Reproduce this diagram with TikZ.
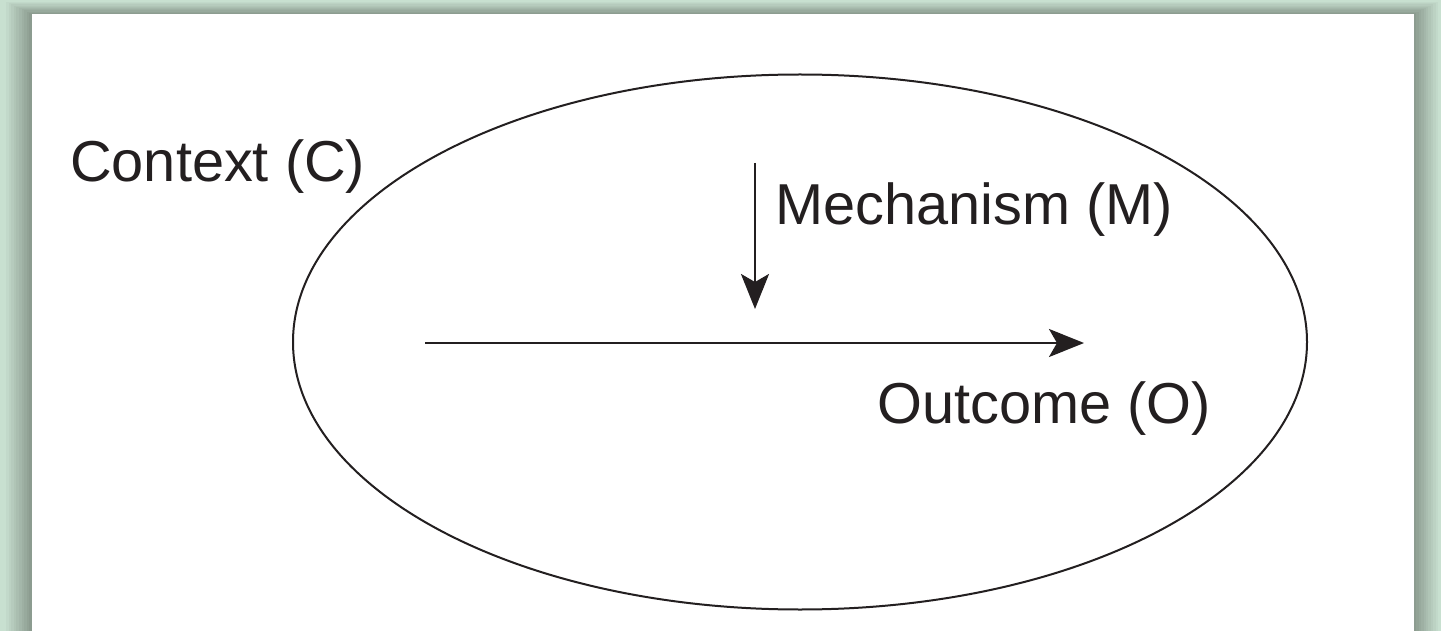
\documentclass[tikz,border=0pt]{standalone}
\usepackage{fontspec}
\setmainfont{Liberation Sans}
\usetikzlibrary{arrows.meta,shapes.geometric}
\definecolor{bglight}{RGB}{200,224,208}
\definecolor{bgdark}{RGB}{140,156,144}
\definecolor{ink}{RGB}{35,31,32}
\tikzset{
  lbl/.style={font=\fontsize{57.7}{60}\selectfont, text=ink, inner sep=0pt},
  conn/.style={draw=ink, line width=2.5pt, -{Stealth[length=35pt,width=28pt,inset=8pt]}},
}
\begin{document}
\begin{tikzpicture}[x=1pt,y=-1pt]
\useasboundingbox (0,0) rectangle (1441,631);
\fill[bglight] (0,0) rectangle (1441,631);
\foreach \i in {0,...,9}{
  \pgfmathsetmacro\f{1-\i/10}
  \pgfmathsetmacro\p{(\i+1)*10}
  \fill[bgdark!\p!bglight] ({32-26*\f},{14-12*\f}) rectangle ({1414+24*\f},640);
}
\fill[white] (32,14) rectangle (1414,640);
% ellipse
\node[draw=ink, line width=2pt, ellipse, minimum width=1014pt, minimum height=535pt, inner sep=0pt] (ctx) at (800,342) {};
% labels
\node[lbl, anchor=base west] (c) at (70,182) {Context (C)};
\node[lbl, anchor=base west] (m) at (775,225) {Mechanism (M)};
\node[lbl, anchor=base west] (o) at (877,423) {Outcome (O)};
% arrows
\coordinate (hs) at (425,343);
\coordinate (he) at (1084,343);
\coordinate (vs) at (755,163);
\coordinate (ve) at (755,309);
\draw[conn] (hs) -- (he);
\draw[conn] (vs) -- (ve);
\end{tikzpicture}
\end{document}
